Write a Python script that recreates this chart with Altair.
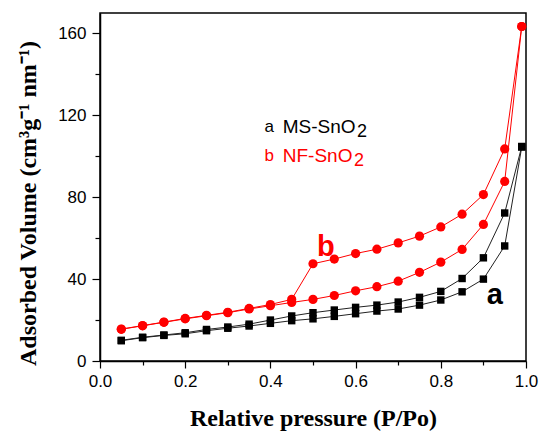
import altair as alt
import pandas as pd

# Relative pressure points
p_ads = [0.05, 0.10, 0.15, 0.20, 0.25, 0.30, 0.35, 0.40, 0.45, 0.50,
         0.55, 0.60, 0.65, 0.70, 0.75, 0.80, 0.85, 0.90, 0.95, 0.99]
p_des = [0.99, 0.95, 0.90, 0.85, 0.80, 0.75, 0.70, 0.65, 0.60, 0.55,
         0.50, 0.45, 0.40, 0.35, 0.30, 0.25, 0.20, 0.15, 0.10, 0.05]

# NF-SnO2 (b, red)
nf_ads = [15.5, 17.2, 18.9, 20.6, 22.1, 23.6, 25.4, 27.0, 28.6, 30.1,
          32.0, 34.3, 36.3, 39.0, 43.3, 48.3, 54.5, 66.7, 87.7, 163.4]
nf_des = [163.4, 103.6, 81.3, 71.7, 65.5, 61.0, 57.7, 54.6, 52.5, 49.8,
          47.5, 30.1, 27.6, 25.7, 23.8, 22.3, 20.8, 19.0, 17.3, 15.6]

# MS-SnO2 (a, black)
ms_ads = [9.9, 11.4, 12.5, 13.3, 14.8, 16.0, 17.1, 18.4, 19.7, 20.6,
          21.8, 23.1, 24.4, 25.4, 27.3, 29.8, 33.8, 40.0, 56.2, 104.5]
ms_des = [104.8, 72.3, 50.4, 40.3, 34.0, 31.1, 28.8, 27.3, 26.2, 24.9,
          23.6, 22.0, 20.0, 18.0, 16.6, 15.4, 13.8, 12.7, 11.6, 10.1]

rows = []
for sample, ads, des in [("MS", ms_ads, ms_des), ("NF", nf_ads, nf_des)]:
    for i, (p, v) in enumerate(zip(p_ads, ads)):
        rows.append({"sample": sample, "branch": sample + "-ads", "p": p, "v": v, "o": i})
    for i, (p, v) in enumerate(zip(p_des, des)):
        rows.append({"sample": sample, "branch": sample + "-des", "p": p, "v": v, "o": i})
df = pd.DataFrame(rows)

# annotations (data coordinates)
legend_sym = ["a", "b"]
legend_name = ["MS-SnO", "NF-SnO"]
legend_sub = ["2", "2"]
legend_color = ["black", "red"]
legend_y = [114.3, 100.0]
legend_sub_y = [112.0, 97.8]

FONT = "Liberation Sans"
SERIF = "Liberation Serif"

xs = alt.Scale(domain=[0, 1], nice=False)
ys = alt.Scale(domain=[0, 170], nice=False)

x_axis = alt.Axis(
    values=[i / 10 for i in range(11)],
    labelExpr="(round(datum.value*10) % 2 == 0) ? format(datum.value, '.1f') : ''",
    tickSize={"condition": {"test": "round(datum.value*10) % 2 == 0", "value": 7}, "value": 4},
    title="Relative pressure (P/Po)",
    titleFont=SERIF, titleFontSize=24, titleFontWeight="bold", titleColor="black",
    labelFont=FONT, labelFontSize=17, labelColor="black", labelPadding=5,
    labelFlush=False,
    titlePadding=17, grid=False, domainColor="black", tickColor="black",
    domainWidth=1.5, tickWidth=1.2,
)
y_axis = alt.Axis(
    values=[0, 20, 40, 60, 80, 100, 120, 140, 160],
    labelExpr="(datum.value % 40 == 0) ? format(datum.value, 'd') : ''",
    tickSize={"condition": {"test": "datum.value % 40 == 0", "value": 8}, "value": 5},
    title="Adsorbed Volume (cm³g⁻¹ nm⁻¹)",
    titleFont=SERIF, titleFontSize=24, titleFontWeight="bold", titleColor="black",
    labelFont=FONT, labelFontSize=17, labelColor="black", labelPadding=6,
    labelFlush=False, titleY=190,
    titlePadding=17, grid=False, domainColor="black", tickColor="black",
    domainWidth=1.5, tickWidth=1.2,
)

color = alt.Color("sample:N", scale=alt.Scale(domain=["MS", "NF"], range=["#222222", "red"]), legend=None)

base = alt.Chart(df).encode(
    x=alt.X("p:Q", scale=xs, axis=x_axis),
    y=alt.Y("v:Q", scale=ys, axis=y_axis),
)

lines = base.mark_line(strokeWidth=1).encode(
    color=color, detail="branch:N", order="o:Q"
)

ms_pts = alt.Chart(df[df["sample"] == "MS"]).mark_point(
    shape="square", filled=True, size=55, color="black", opacity=1
).encode(x=alt.X("p:Q", scale=xs), y=alt.Y("v:Q", scale=ys))

nf_pts = alt.Chart(df[df["sample"] == "NF"]).mark_point(
    shape="circle", filled=True, size=85, color="red", opacity=1
).encode(x=alt.X("p:Q", scale=xs), y=alt.Y("v:Q", scale=ys))

leg = pd.DataFrame({
    "sym": legend_sym, "name": legend_name, "sub": legend_sub,
    "c": legend_color, "y": legend_y, "ys": legend_sub_y,
    "xs": [0.397, 0.397], "xn": [0.429, 0.429], "xsub": [0.603, 0.596],
})
ccol = alt.Color("c:N", scale=None)
leg_sym = alt.Chart(leg).mark_text(font=FONT, fontSize=17, align="center", baseline="middle").encode(
    x=alt.X("xs:Q", scale=xs), y=alt.Y("y:Q", scale=ys), text="sym:N", color=ccol)
leg_name = alt.Chart(leg).mark_text(font=FONT, fontSize=19, align="left", baseline="middle").encode(
    x=alt.X("xn:Q", scale=xs), y=alt.Y("y:Q", scale=ys), text="name:N", color=ccol)
leg_sub = alt.Chart(leg).mark_text(font=FONT, fontSize=18, align="left", baseline="middle").encode(
    x=alt.X("xsub:Q", scale=xs), y=alt.Y("ys:Q", scale=ys), text="sub:N", color=ccol)

big = pd.DataFrame({"t": ["b", "a"], "x": [0.53, 0.927], "y": [51.5, 27.8], "c": ["red", "black"]})
big_lbl = alt.Chart(big).mark_text(font=FONT, fontSize=29, fontWeight="bold", align="center", baseline="alphabetic").encode(
    x=alt.X("x:Q", scale=xs), y=alt.Y("y:Q", scale=ys), text="t:N", color=ccol)

chart = alt.layer(lines, ms_pts, nf_pts, leg_sym, leg_name, leg_sub, big_lbl).properties(
    width=426, height=348,
    autosize=alt.AutoSizeParams(type="none"),
    padding={"left": 100, "top": 13, "right": 16, "bottom": 70},
    background="white",
).configure_view(stroke="black", strokeWidth=1.5)

chart.save("out.html", embed_options={"renderer": "svg", "actions": False})
